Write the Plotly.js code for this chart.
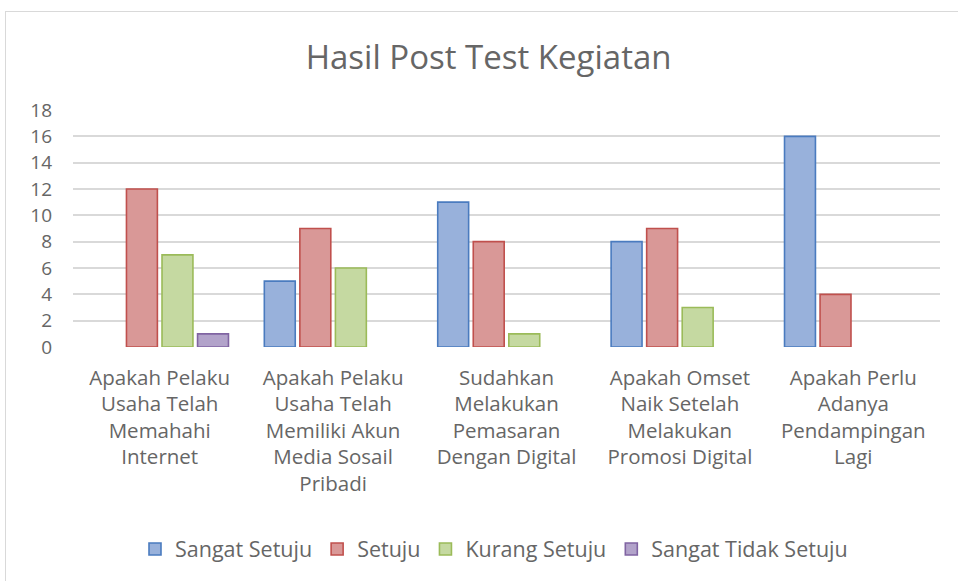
<!DOCTYPE html>
<html>
<head>
<meta charset="utf-8">
<script src="https://cdn.plot.ly/plotly-3.0.1.min.js"></script>
<style>
html,body{margin:0;padding:0;background:#fff;overflow:hidden;}
#wrap{position:relative;width:958px;height:581px;}
#frame{position:absolute;left:5px;top:11px;width:980px;height:600px;border:1px solid #d9d9d9;pointer-events:none;}
#chart{position:absolute;left:0;top:0;width:958px;height:581px;}
</style>
</head>
<body>
<div id="wrap"><div id="chart"></div><div id="frame"></div></div>
<script>
const categories = [
  "Apakah Pelaku<br>Usaha Telah<br>Memahahi<br>Internet",
  "Apakah Pelaku<br>Usaha Telah<br>Memiliki Akun<br>Media Sosail<br>Pribadi",
  "Sudahkan<br>Melakukan<br>Pemasaran<br>Dengan Digital",
  "Apakah Omset<br>Naik Setelah<br>Melakukan<br>Promosi Digital",
  "Apakah Perlu<br>Adanya<br>Pendampingan<br>Lagi"
];
const seriesNames = ["Sangat Setuju", "Setuju", "Kurang Setuju", "Sangat Tidak Setuju"];
const sangatSetuju = [0, 5, 11, 8, 16];
const setuju = [12, 9, 8, 9, 4];
const kurangSetuju = [7, 6, 1, 3, 0];
const sangatTidakSetuju = [1, 0, 0, 0, 0];
const yTicks = [0, 2, 4, 6, 8, 10, 12, 14, 16, 18];

const fills = ["#98b1db", "#d99897", "#c5d9a1", "#b2a3ca"];
const lines = ["#4a7bbf", "#c0504d", "#9bbb59", "#8064a2"];
const values = [sangatSetuju, setuju, kurangSetuju, sangatTidakSetuju];

const FONT = "'Open Sans', sans-serif";
const TXT = "#666666";

// zero-height bars are not drawn (as in the original chart)
const traces = values.map((v, i) => ({
  type: "bar",
  name: seriesNames[i],
  x: categories,
  y: v.map(d => (d === 0 ? null : d)),
  marker: { color: fills[i], line: { color: lines[i], width: 1.6 } },
  hoverinfo: "x+y+name"
}));

const layout = {
  width: 958, height: 581,
  paper_bgcolor: "rgba(0,0,0,0)", plot_bgcolor: "rgba(0,0,0,0)",
  margin: { l: 73, r: 18, t: 110, b: 234 },
  barmode: "group",
  bargap: 0.18,
  bargroupgap: 0.13,
  font: { family: FONT, color: TXT, size: 20 },
  title: {
    text: "Hasil Post Test Kegiatan",
    font: { family: FONT, size: 33, color: TXT },
    xref: "container", x: 0.51, xanchor: "center",
    yref: "container", y: 1 - 57 / 581, yanchor: "middle"
  },
  xaxis: {
    type: "category",
    showgrid: false, zeroline: false, showline: false, ticks: "",
    tickfont: { family: FONT, size: 20.5, color: TXT },
    ticklabelstandoff: 16,
    fixedrange: true
  },
  yaxis: {
    range: [0, 18],
    tickvals: yTicks,
    ticktext: yTicks.map(String),
    showgrid: true, gridcolor: "#d9d9d9", gridwidth: 1.5,
    zeroline: false, showline: false, ticks: "",
    tickfont: { family: FONT, size: 19, color: TXT },
    ticklabelstandoff: 20,
    fixedrange: true
  },
  showlegend: true,
  legend: {
    orientation: "h",
    xref: "container", x: 494 / 958, xanchor: "center",
    yref: "container", y: 1 - 549 / 581, yanchor: "middle",
    font: { family: FONT, size: 21.5, color: TXT },
    itemwidth: 30,
    traceorder: "normal"
  }
};

Plotly.newPlot("chart", traces, layout, { displayModeBar: false });
</script>
</body>
</html>
